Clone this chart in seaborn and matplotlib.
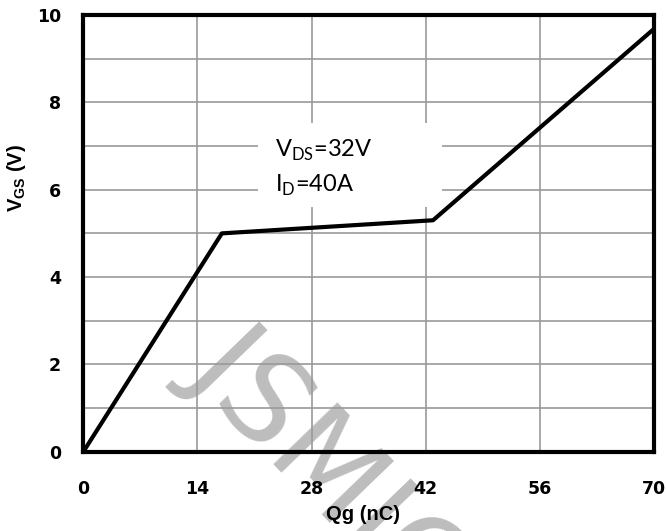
import matplotlib
matplotlib.use("Agg")
import matplotlib.pyplot as plt
from matplotlib.patches import Rectangle
import seaborn as sns
import pandas as pd

# gate charge curve
qg_nc = [0, 17.0, 42.9, 70]
vgs_v = [0, 5.0, 5.3, 9.68]

x_ticks = [0, 14, 28, 42, 56, 70]
y_ticks = [0, 2, 4, 6, 8, 10]
y_minor = [1, 3, 5, 7, 9]

df = pd.DataFrame({"Qg": qg_nc, "VGS": vgs_v})

sns.set_style("white")
plt.rcParams.update({
    "text.color": "black", "axes.labelcolor": "black",
    "xtick.color": "black", "ytick.color": "black",
    "mathtext.fontset": "custom", "mathtext.rm": "Lato",
    "mathtext.bf": "Liberation Sans:bold",
})

fig = plt.figure(figsize=(6.66, 5.31), dpi=100)
ax = fig.add_axes([0.125, 0.149, 0.857, 0.823])
ax.patch.set_alpha(0)

sns.lineplot(data=df, x="Qg", y="VGS", ax=ax, color="black", linewidth=3, zorder=4)

ax.set_xlim(0, 70)
ax.set_ylim(0, 10)
ax.set_xticks(x_ticks)
ax.set_yticks(y_ticks)
ax.set_yticks(y_minor, minor=True)
ax.grid(True, which="both", color="#999999", linewidth=1.2, zorder=1)
ax.set_axisbelow(True)
ax.tick_params(axis="y", which="both", length=0, pad=16)
ax.tick_params(axis="x", which="both", length=0, pad=20)
for lab in ax.get_xticklabels() + ax.get_yticklabels():
    lab.set_fontweight("bold")
    lab.set_fontsize(12.5)
    lab.set_family("DejaVu Sans")
for s in ax.spines.values():
    s.set_linewidth(3)
    s.set_color("black")
    s.set_zorder(5)

ax.set_xlabel("Qg (nC)", fontsize=14.5, fontweight="bold", family="Liberation Sans")
ax.xaxis.set_label_coords(0.49, -0.122)
ax.set_ylabel(r"V$_{\mathbf{GS}}$ (V)", fontsize=14.5, fontweight="bold", family="Liberation Sans")
ax.yaxis.set_label_coords(-0.096, 0.627)

# white box behind the test conditions
ax.add_patch(Rectangle((21.45, 5.61), 22.55, 1.92, facecolor="white", edgecolor="none", zorder=2))
ax.text(23.5, 6.75, "V$_{\\mathrm{DS}}$=32V", fontsize=17, family="Lato", ha="left", va="baseline", zorder=3)
ax.text(23.5, 5.95, "I$_{\\mathrm{D}}$=40A", fontsize=17, family="Lato", ha="left", va="baseline", zorder=3)

# watermark, behind the grid
fig.text(0.59, -0.005, "JSMICRO", fontsize=88, color="#bdbdbd", rotation=-46,
         ha="center", va="center", family="Liberation Sans Narrow", zorder=-1)

fig.savefig("out.png", dpi=100)
